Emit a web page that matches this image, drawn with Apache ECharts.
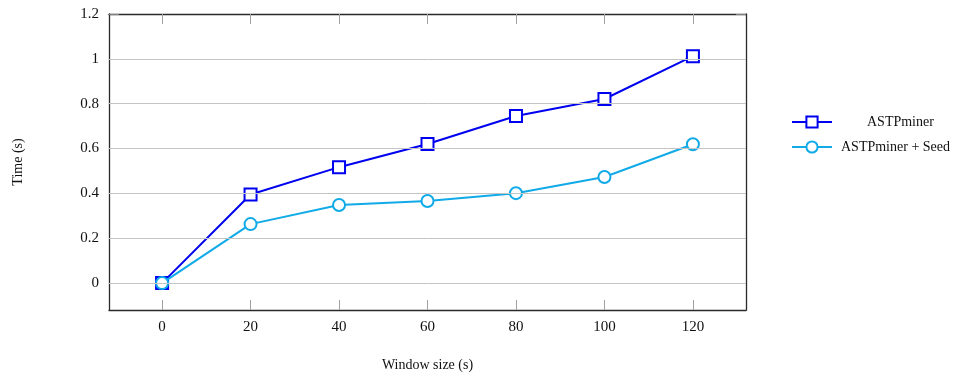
<!DOCTYPE html>
<html>
<head>
<meta charset="utf-8">
<script src="https://cdn.jsdelivr.net/npm/echarts@6/dist/echarts.min.js"></script>
<style>
  html, body { margin: 0; padding: 0; background: #fff; }
  #chart { width: 976px; height: 373px; }
</style>
</head>
<body>
<div id="chart"></div>
<script>
// Window sizes (s) and measured run times (s)
const windowSizes = [0, 20, 40, 60, 80, 100, 120];
const astpminer = [0, 0.395, 0.517, 0.62, 0.745, 0.821, 1.012];
const astpminerSeed = [0, 0.263, 0.348, 0.366, 0.401, 0.473, 0.619];
const yTicks = [0, 0.2, 0.4, 0.6, 0.8, 1, 1.2];
const xTicks = [0, 20, 40, 60, 80, 100, 120];

const FONT = '"Liberation Serif", "DejaVu Serif", serif';
const BLUE = '#0000f0';
const CYAN = '#10aae8';
const FRAME = { show: true, onZero: false, lineStyle: { color: '#2a2a2a', width: 1.3 } };
const TICK_LEN = 10;

const chart = echarts.init(document.getElementById('chart'), null, { renderer: 'canvas' });

const xBase = { type: 'value', min: -12, max: 132, splitLine: { show: false } };
const yBase = { type: 'value', min: -0.12, max: 1.2, splitLine: { show: false } };

chart.setOption({
  animation: false,
  backgroundColor: '#fff',
  grid: { left: 109, right: 230, top: 14, bottom: 63, containLabel: false, outerBoundsMode: 'none' },
  xAxis: [Object.assign({}, xBase, {
    name: 'Window size (s)',
    nameLocation: 'middle', nameGap: 48,
    nameTextStyle: { fontFamily: FONT, fontSize: 14, color: '#111' },
    axisLine: FRAME,
    axisTick: { show: true, inside: true, length: TICK_LEN, customValues: xTicks, lineStyle: { color: '#a0a0a0', width: 1 } },
    axisLabel: { fontFamily: FONT, fontSize: 15, color: '#111', margin: 10, customValues: xTicks }
  }), Object.assign({}, xBase, {
    position: 'top',
    axisLine: FRAME,
    axisTick: { show: true, inside: true, length: TICK_LEN, customValues: xTicks, lineStyle: { color: '#a0a0a0', width: 1 } },
    axisLabel: { show: false }
  })],
  yAxis: [Object.assign({}, yBase, {
    name: 'Time (s)',
    nameLocation: 'middle', nameGap: 84, nameRotate: 90,
    nameTextStyle: { fontFamily: FONT, fontSize: 14, color: '#111' },
    axisLine: FRAME,
    axisTick: { show: true, inside: true, length: TICK_LEN, customValues: yTicks, lineStyle: { color: '#808080', width: 1 } },
    axisLabel: {
      fontFamily: FONT, fontSize: 15, color: '#111', margin: 10, customValues: yTicks,
      formatter: v => String(Math.round(v * 10) / 10)
    }
  }), Object.assign({}, yBase, {
    position: 'right',
    axisLine: FRAME,
    axisTick: { show: true, inside: true, length: TICK_LEN, customValues: yTicks, lineStyle: { color: '#808080', width: 1 } },
    axisLabel: { show: false }
  })],
  legend: [{
    data: ['ASTPminer'],
    left: 786, top: 110,
    itemWidth: 40, itemHeight: 14,
    textStyle: { fontFamily: FONT, fontSize: 14, color: '#111', padding: [0, 0, 0, 30] }
  }, {
    data: ['ASTPminer + Seed'],
    left: 786, top: 135,
    itemWidth: 40, itemHeight: 14,
    textStyle: { fontFamily: FONT, fontSize: 14, color: '#111', padding: [0, 0, 0, 4] }
  }],
  series: [{
    // horizontal grid lines at the labelled y ticks
    name: 'grid',
    type: 'line',
    data: [],
    silent: true,
    markLine: {
      silent: true,
      symbol: 'none',
      label: { show: false },
      lineStyle: { color: '#c4c4c4', width: 1, type: 'solid' },
      data: yTicks.filter(v => v < 1.2).map(v => ({ yAxis: v }))
    },
    z: 1
  }, {
    name: 'ASTPminer',
    type: 'line',
    data: windowSizes.map((x, i) => [x, astpminer[i]]),
    symbol: 'rect', symbolSize: 12,
    lineStyle: { color: BLUE, width: 2 },
    itemStyle: { color: '#fff', borderColor: BLUE, borderWidth: 2 },
    z: 3
  }, {
    name: 'ASTPminer + Seed',
    type: 'line',
    data: windowSizes.map((x, i) => [x, astpminerSeed[i]]),
    symbol: 'circle', symbolSize: 12,
    lineStyle: { color: CYAN, width: 2 },
    itemStyle: { color: '#fff', borderColor: CYAN, borderWidth: 2 },
    z: 4
  }]
});
</script>
</body>
</html>
